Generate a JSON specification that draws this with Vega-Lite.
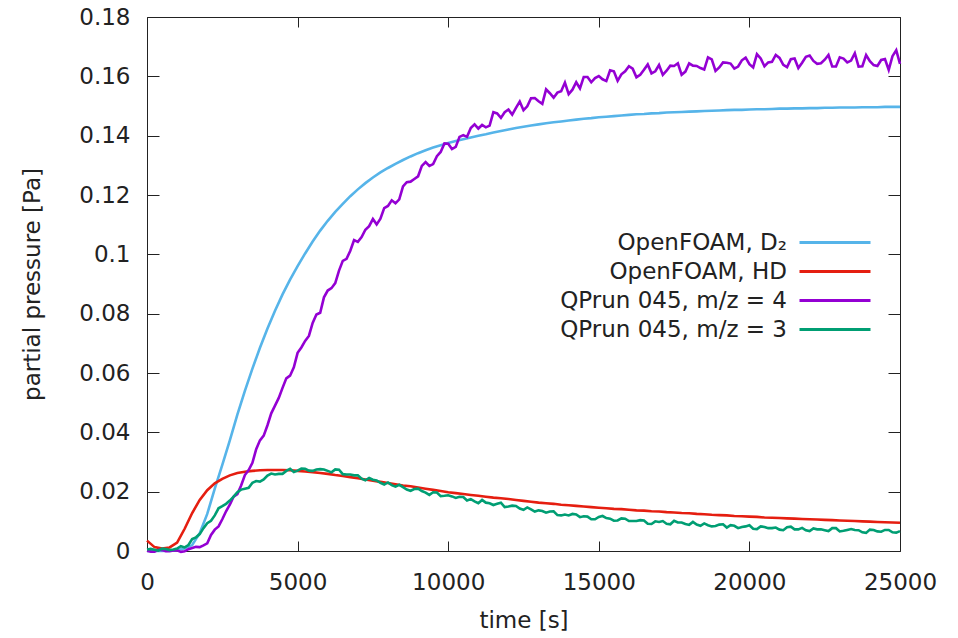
{
  "$schema": "https://vega.github.io/schema/vega-lite/v6.json",
  "width": 753,
  "height": 534,
  "autosize": {"type": "none"},
  "padding": {"left": 147, "top": 17, "right": 58, "bottom": 87},
  "background": "white",
  "config": {
    "view": {"stroke": "#222", "strokeWidth": 1},
    "font": "DejaVu Sans",
    "axis": {
      "grid": false,
      "domain": false,
      "tickColor": "#222",
      "tickWidth": 1,
      "labelFont": "DejaVu Sans",
      "labelFontSize": 23,
      "labelColor": "#222",
      "titleFont": "DejaVu Sans",
      "titleFontSize": 23,
      "titleFontWeight": "normal",
      "titleColor": "#222"
    }
  },
  "data": {
    "values": [
      {"t": 0, "a": 0, "b": 0.0035, "c": 0.0001, "d": 0.0005},
      {"t": 250, "a": 0, "b": 0.0013, "c": -0.0002, "d": 0.0004},
      {"t": 500, "a": 0, "b": 0.0008, "c": 0.0003, "d": 0.0008},
      {"t": 750, "a": 0.0001, "b": 0.0012, "c": -0.0001, "d": 0.0003},
      {"t": 1000, "a": 0.0003, "b": 0.0028, "c": 0.0002, "d": 0.0008},
      {"t": 1250, "a": 0.0008, "b": 0.0075, "c": -0.0001, "d": 0.0012},
      {"t": 1500, "a": 0.002, "b": 0.0128, "c": 0.001, "d": 0.004},
      {"t": 1750, "a": 0.006, "b": 0.0172, "c": 0.0013, "d": 0.0057},
      {"t": 2000, "a": 0.0125, "b": 0.0205, "c": 0.0026, "d": 0.0094},
      {"t": 2250, "a": 0.021, "b": 0.0228, "c": 0.0072, "d": 0.012},
      {"t": 2500, "a": 0.029, "b": 0.0243, "c": 0.0107, "d": 0.0151},
      {"t": 2750, "a": 0.0373, "b": 0.0255, "c": 0.0156, "d": 0.017},
      {"t": 3000, "a": 0.046, "b": 0.0263, "c": 0.0192, "d": 0.0198},
      {"t": 3250, "a": 0.054, "b": 0.0267, "c": 0.0256, "d": 0.021},
      {"t": 3500, "a": 0.0615, "b": 0.027, "c": 0.0297, "d": 0.023},
      {"t": 3750, "a": 0.0685, "b": 0.0272, "c": 0.0373, "d": 0.0234},
      {"t": 4000, "a": 0.075, "b": 0.0273, "c": 0.0424, "d": 0.0254},
      {"t": 4250, "a": 0.081, "b": 0.0273, "c": 0.049, "d": 0.0258},
      {"t": 4500, "a": 0.0865, "b": 0.0273, "c": 0.055, "d": 0.026},
      {"t": 4750, "a": 0.0915, "b": 0.0272, "c": 0.0591, "d": 0.0277},
      {"t": 5000, "a": 0.096, "b": 0.027, "c": 0.0668, "d": 0.0271},
      {"t": 5250, "a": 0.1003, "b": 0.0268, "c": 0.0708, "d": 0.0277},
      {"t": 5500, "a": 0.1043, "b": 0.0266, "c": 0.0769, "d": 0.027},
      {"t": 5750, "a": 0.108, "b": 0.0263, "c": 0.0803, "d": 0.0276},
      {"t": 6000, "a": 0.1113, "b": 0.026, "c": 0.0878, "d": 0.027},
      {"t": 6250, "a": 0.1143, "b": 0.0256, "c": 0.0903, "d": 0.0275},
      {"t": 6500, "a": 0.117, "b": 0.0253, "c": 0.0978, "d": 0.0259},
      {"t": 6750, "a": 0.1196, "b": 0.0249, "c": 0.1012, "d": 0.0258},
      {"t": 7000, "a": 0.1219, "b": 0.0245, "c": 0.1042, "d": 0.0255},
      {"t": 7250, "a": 0.124, "b": 0.0241, "c": 0.1083, "d": 0.0238},
      {"t": 7500, "a": 0.1259, "b": 0.0237, "c": 0.1119, "d": 0.024},
      {"t": 7750, "a": 0.1276, "b": 0.0233, "c": 0.112, "d": 0.023},
      {"t": 8000, "a": 0.1291, "b": 0.0229, "c": 0.1163, "d": 0.0231},
      {"t": 8250, "a": 0.1305, "b": 0.0225, "c": 0.1172, "d": 0.0217},
      {"t": 8500, "a": 0.1318, "b": 0.0221, "c": 0.1229, "d": 0.0215},
      {"t": 8750, "a": 0.133, "b": 0.0218, "c": 0.1245, "d": 0.0203},
      {"t": 9000, "a": 0.1341, "b": 0.0214, "c": 0.1263, "d": 0.021},
      {"t": 9250, "a": 0.1351, "b": 0.021, "c": 0.1311, "d": 0.0197},
      {"t": 9500, "a": 0.136, "b": 0.0206, "c": 0.1304, "d": 0.0198},
      {"t": 9750, "a": 0.1368, "b": 0.0202, "c": 0.1345, "d": 0.0185},
      {"t": 10000, "a": 0.1375, "b": 0.0198, "c": 0.1373, "d": 0.0188},
      {"t": 10250, "a": 0.1382, "b": 0.0195, "c": 0.1362, "d": 0.0179},
      {"t": 10500, "a": 0.1388, "b": 0.0192, "c": 0.1402, "d": 0.0182},
      {"t": 10750, "a": 0.1394, "b": 0.0189, "c": 0.1426, "d": 0.0175},
      {"t": 11000, "a": 0.14, "b": 0.0186, "c": 0.1424, "d": 0.0161},
      {"t": 11250, "a": 0.1405, "b": 0.0183, "c": 0.1428, "d": 0.0163},
      {"t": 11500, "a": 0.1411, "b": 0.018, "c": 0.1479, "d": 0.0155},
      {"t": 11750, "a": 0.1416, "b": 0.0178, "c": 0.146, "d": 0.0163},
      {"t": 12000, "a": 0.1421, "b": 0.0175, "c": 0.1488, "d": 0.015},
      {"t": 12250, "a": 0.1426, "b": 0.0172, "c": 0.1494, "d": 0.0152},
      {"t": 12500, "a": 0.143, "b": 0.0169, "c": 0.1486, "d": 0.0139},
      {"t": 12750, "a": 0.1434, "b": 0.0166, "c": 0.1526, "d": 0.014},
      {"t": 13000, "a": 0.1438, "b": 0.0163, "c": 0.1516, "d": 0.0137},
      {"t": 13250, "a": 0.1442, "b": 0.0161, "c": 0.1556, "d": 0.0129},
      {"t": 13500, "a": 0.1445, "b": 0.0159, "c": 0.1528, "d": 0.0134},
      {"t": 13750, "a": 0.1448, "b": 0.0156, "c": 0.155, "d": 0.012},
      {"t": 14000, "a": 0.1451, "b": 0.0154, "c": 0.154, "d": 0.012},
      {"t": 14250, "a": 0.1454, "b": 0.0152, "c": 0.158, "d": 0.0123},
      {"t": 14500, "a": 0.1457, "b": 0.015, "c": 0.1598, "d": 0.0117},
      {"t": 14750, "a": 0.1459, "b": 0.0148, "c": 0.158, "d": 0.0107},
      {"t": 15000, "a": 0.1462, "b": 0.0146, "c": 0.1601, "d": 0.0115},
      {"t": 15250, "a": 0.1464, "b": 0.0144, "c": 0.1584, "d": 0.0111},
      {"t": 15500, "a": 0.1466, "b": 0.0142, "c": 0.1617, "d": 0.0102},
      {"t": 15750, "a": 0.1468, "b": 0.0141, "c": 0.1607, "d": 0.011},
      {"t": 16000, "a": 0.147, "b": 0.0139, "c": 0.1634, "d": 0.0101},
      {"t": 16250, "a": 0.1472, "b": 0.0137, "c": 0.1597, "d": 0.0101},
      {"t": 16500, "a": 0.1473, "b": 0.0136, "c": 0.1622, "d": 0.0103},
      {"t": 16750, "a": 0.1475, "b": 0.0134, "c": 0.161, "d": 0.0091},
      {"t": 17000, "a": 0.1476, "b": 0.0133, "c": 0.1638, "d": 0.0098},
      {"t": 17250, "a": 0.1478, "b": 0.0131, "c": 0.1619, "d": 0.0092},
      {"t": 17500, "a": 0.1479, "b": 0.013, "c": 0.1635, "d": 0.0102},
      {"t": 17750, "a": 0.148, "b": 0.0128, "c": 0.1605, "d": 0.0096},
      {"t": 18000, "a": 0.1481, "b": 0.0127, "c": 0.1644, "d": 0.0088},
      {"t": 18250, "a": 0.1482, "b": 0.0125, "c": 0.1635, "d": 0.0089},
      {"t": 18500, "a": 0.1483, "b": 0.0124, "c": 0.1623, "d": 0.0093},
      {"t": 18750, "a": 0.1484, "b": 0.0122, "c": 0.1657, "d": 0.0083},
      {"t": 19000, "a": 0.1485, "b": 0.0121, "c": 0.163, "d": 0.0089},
      {"t": 19250, "a": 0.1486, "b": 0.012, "c": 0.1646, "d": 0.0079},
      {"t": 19500, "a": 0.1487, "b": 0.0118, "c": 0.1626, "d": 0.0085},
      {"t": 19750, "a": 0.1487, "b": 0.0117, "c": 0.1654, "d": 0.0081},
      {"t": 20000, "a": 0.1488, "b": 0.0116, "c": 0.1641, "d": 0.0087},
      {"t": 20250, "a": 0.1489, "b": 0.0115, "c": 0.1675, "d": 0.0074},
      {"t": 20500, "a": 0.1489, "b": 0.0113, "c": 0.1634, "d": 0.0081},
      {"t": 20750, "a": 0.149, "b": 0.0112, "c": 0.1649, "d": 0.0077},
      {"t": 21000, "a": 0.1491, "b": 0.0111, "c": 0.1662, "d": 0.0072},
      {"t": 21250, "a": 0.1491, "b": 0.011, "c": 0.1631, "d": 0.008},
      {"t": 21500, "a": 0.1492, "b": 0.0109, "c": 0.166, "d": 0.0073},
      {"t": 21750, "a": 0.1492, "b": 0.0108, "c": 0.1646, "d": 0.0078},
      {"t": 22000, "a": 0.1493, "b": 0.0107, "c": 0.167, "d": 0.0067},
      {"t": 22250, "a": 0.1493, "b": 0.0106, "c": 0.1642, "d": 0.0073},
      {"t": 22500, "a": 0.1494, "b": 0.0105, "c": 0.1656, "d": 0.007},
      {"t": 22750, "a": 0.1494, "b": 0.0104, "c": 0.1633, "d": 0.0077},
      {"t": 23000, "a": 0.1495, "b": 0.0103, "c": 0.1664, "d": 0.0066},
      {"t": 23250, "a": 0.1495, "b": 0.0102, "c": 0.1647, "d": 0.0071},
      {"t": 23500, "a": 0.1495, "b": 0.0101, "c": 0.1678, "d": 0.0071},
      {"t": 23750, "a": 0.1496, "b": 0.01, "c": 0.1634, "d": 0.0063},
      {"t": 24000, "a": 0.1496, "b": 0.0099, "c": 0.1651, "d": 0.0072},
      {"t": 24250, "a": 0.1496, "b": 0.0098, "c": 0.1635, "d": 0.0066},
      {"t": 24500, "a": 0.1497, "b": 0.0097, "c": 0.1658, "d": 0.0071},
      {"t": 24750, "a": 0.1497, "b": 0.0096, "c": 0.1668, "d": 0.0063},
      {"t": 25000, "a": 0.1497, "b": 0.0095, "c": 0.1642, "d": 0.0067},
      {"t": 125, "c": -0.0002, "d": 0.0007},
      {"t": 375, "c": 0.0004, "d": 0.0001},
      {"t": 625, "c": -0.0001, "d": 0.0007},
      {"t": 875, "c": 0.0002, "d": 0.0005},
      {"t": 1125, "c": -0.0003, "d": 0.0016},
      {"t": 1375, "c": 0.0006, "d": 0.002},
      {"t": 1625, "c": 0.0014, "d": 0.0046},
      {"t": 1875, "c": 0.0019, "d": 0.0077},
      {"t": 2125, "c": 0.0054, "d": 0.0102},
      {"t": 2375, "c": 0.0083, "d": 0.0144},
      {"t": 2625, "c": 0.0134, "d": 0.0159},
      {"t": 2875, "c": 0.0183, "d": 0.0183},
      {"t": 3125, "c": 0.0221, "d": 0.0207},
      {"t": 3375, "c": 0.0273, "d": 0.0213},
      {"t": 3625, "c": 0.0343, "d": 0.0236},
      {"t": 3875, "c": 0.0389, "d": 0.0241},
      {"t": 4125, "c": 0.0464, "d": 0.0261},
      {"t": 4375, "c": 0.0516, "d": 0.026},
      {"t": 4625, "c": 0.0582, "d": 0.027},
      {"t": 4875, "c": 0.0619, "d": 0.0266},
      {"t": 5125, "c": 0.0686, "d": 0.0278},
      {"t": 5375, "c": 0.0725, "d": 0.0271},
      {"t": 5625, "c": 0.0797, "d": 0.0275},
      {"t": 5875, "c": 0.0855, "d": 0.0275},
      {"t": 6125, "c": 0.0886, "d": 0.0265},
      {"t": 6375, "c": 0.0945, "d": 0.0274},
      {"t": 6625, "c": 0.0985, "d": 0.0258},
      {"t": 6875, "c": 0.1048, "d": 0.0255},
      {"t": 7125, "c": 0.1058, "d": 0.0244},
      {"t": 7375, "c": 0.1095, "d": 0.0246},
      {"t": 7625, "c": 0.1101, "d": 0.0238},
      {"t": 7875, "c": 0.1156, "d": 0.0224},
      {"t": 8125, "c": 0.1182, "d": 0.0222},
      {"t": 8375, "c": 0.1185, "d": 0.0223},
      {"t": 8625, "c": 0.1243, "d": 0.0207},
      {"t": 8875, "c": 0.1254, "d": 0.0209},
      {"t": 9125, "c": 0.1298, "d": 0.0202},
      {"t": 9375, "c": 0.1298, "d": 0.0189},
      {"t": 9625, "c": 0.1331, "d": 0.0197},
      {"t": 9875, "c": 0.1374, "d": 0.0186},
      {"t": 10125, "c": 0.1355, "d": 0.0184},
      {"t": 10375, "c": 0.1396, "d": 0.0183},
      {"t": 10625, "c": 0.1396, "d": 0.017},
      {"t": 10875, "c": 0.1438, "d": 0.0167},
      {"t": 11125, "c": 0.1436, "d": 0.0172},
      {"t": 11375, "c": 0.1434, "d": 0.0161},
      {"t": 11625, "c": 0.1475, "d": 0.0159},
      {"t": 11875, "c": 0.1479, "d": 0.0148},
      {"t": 12125, "c": 0.1471, "d": 0.0153},
      {"t": 12375, "c": 0.1515, "d": 0.0143},
      {"t": 12625, "c": 0.1499, "d": 0.0147},
      {"t": 12875, "c": 0.1527, "d": 0.0133},
      {"t": 13125, "c": 0.1507, "d": 0.0135},
      {"t": 13375, "c": 0.1543, "d": 0.0133},
      {"t": 13625, "c": 0.1545, "d": 0.0121},
      {"t": 13875, "c": 0.1579, "d": 0.0123},
      {"t": 14125, "c": 0.1555, "d": 0.0125},
      {"t": 14375, "c": 0.1559, "d": 0.0114},
      {"t": 14625, "c": 0.1598, "d": 0.0116},
      {"t": 14875, "c": 0.1594, "d": 0.0107},
      {"t": 15125, "c": 0.159, "d": 0.0118},
      {"t": 15375, "c": 0.162, "d": 0.0109},
      {"t": 15625, "c": 0.1585, "d": 0.0103},
      {"t": 15875, "c": 0.1617, "d": 0.0109},
      {"t": 16125, "c": 0.1626, "d": 0.0101},
      {"t": 16375, "c": 0.1605, "d": 0.0104},
      {"t": 16625, "c": 0.164, "d": 0.0092},
      {"t": 16875, "c": 0.1617, "d": 0.01},
      {"t": 17125, "c": 0.1605, "d": 0.0101},
      {"t": 17375, "c": 0.1636, "d": 0.009},
      {"t": 17625, "c": 0.1644, "d": 0.0096},
      {"t": 17875, "c": 0.1616, "d": 0.0091},
      {"t": 18125, "c": 0.1636, "d": 0.0098},
      {"t": 18375, "c": 0.1628, "d": 0.0085},
      {"t": 18625, "c": 0.1664, "d": 0.0087},
      {"t": 18875, "c": 0.1618, "d": 0.0084},
      {"t": 19125, "c": 0.1647, "d": 0.009},
      {"t": 19375, "c": 0.1643, "d": 0.0087},
      {"t": 19625, "c": 0.1633, "d": 0.0077},
      {"t": 19875, "c": 0.1663, "d": 0.0083},
      {"t": 20125, "c": 0.163, "d": 0.0075},
      {"t": 20375, "c": 0.166, "d": 0.0083},
      {"t": 20625, "c": 0.1647, "d": 0.0077},
      {"t": 20875, "c": 0.1672, "d": 0.0079},
      {"t": 21125, "c": 0.1639, "d": 0.007},
      {"t": 21375, "c": 0.1658, "d": 0.0082},
      {"t": 21625, "c": 0.1628, "d": 0.0073},
      {"t": 21875, "c": 0.1666, "d": 0.007},
      {"t": 22125, "c": 0.1652, "d": 0.0076},
      {"t": 22375, "c": 0.1644, "d": 0.0073},
      {"t": 22625, "c": 0.1672, "d": 0.0067},
      {"t": 22875, "c": 0.1633, "d": 0.0077},
      {"t": 23125, "c": 0.166, "d": 0.0068},
      {"t": 23375, "c": 0.1653, "d": 0.0074},
      {"t": 23625, "c": 0.1633, "d": 0.007},
      {"t": 23875, "c": 0.1672, "d": 0.0061},
      {"t": 24125, "c": 0.1638, "d": 0.0071},
      {"t": 24375, "c": 0.1655, "d": 0.0065},
      {"t": 24625, "c": 0.1622, "d": 0.0071},
      {"t": 24875, "c": 0.1688, "d": 0.0062}
    ]
  },
  "transform": [
    {"fold": ["a", "b", "c", "d"], "as": ["s", "p"]},
    {"filter": "isValid(datum.p)"}
  ],
  "layer": [
    {
      "mark": {"type": "line", "strokeWidth": 2.6, "interpolate": "linear"},
      "encoding": {
        "x": {
          "field": "t", "type": "quantitative",
          "scale": {"domain": [0, 25000], "nice": false, "zero": false},
          "axis": {
            "orient": "bottom", "title": "time [s]",
            "values": [0, 5000, 10000, 15000, 20000, 25000],
            "format": "d", "tickSize": -10, "labelPadding": 30,
            "titlePadding": 15, "labelFlush": false, "labelOverlap": false
          }
        },
        "y": {
          "field": "p", "type": "quantitative",
          "scale": {"domain": [0, 0.18], "nice": false, "zero": false},
          "axis": {
            "orient": "left", "title": "partial pressure [Pa]",
            "values": [0, 0.02, 0.04, 0.06, 0.08, 0.1, 0.12, 0.14, 0.16, 0.18],
            "format": "~g", "tickSize": -12, "labelPadding": 29,
            "titlePadding": 34, "labelFlush": false, "labelOverlap": false
          }
        },
        "color": {
          "field": "s", "type": "nominal",
          "scale": {"domain": ["a", "b", "c", "d"], "range": ["#56b4e9", "#e51e10", "#9400d3", "#009e73"]},
          "legend": {
            "orient": "none", "legendX": 640, "legendY": 214,
            "direction": "vertical", "title": null, "padding": 0,
            "symbolType": "stroke", "symbolSize": 100, "symbolStrokeWidth": 3,
            "labelFont": "DejaVu Sans", "labelFontSize": 23, "labelColor": "#222",
            "rowPadding": 5, "labelLimit": 400,
            "labelExpr": "datum.label == 'a' ? 'OpenFOAM, D₂' : datum.label == 'b' ? 'OpenFOAM, HD' : datum.label == 'c' ? 'QPrun 045, m/z = 4' : 'QPrun 045, m/z = 3'",
            "encode": {
              "labels": {"update": {"x": {"value": 0}, "align": {"value": "right"}}},
              "symbols": {"update": {"x": {"value": 48}, "shape": {"value": "M-7.1,0H7.1"}}}
            }
          }
        }
      }
    },
    {
      "mark": {"type": "point", "opacity": 0},
      "encoding": {
        "x": {
          "field": "t", "type": "quantitative",
          "axis": {"orient": "top", "labels": false, "title": null, "tickSize": -10, "values": [0, 5000, 10000, 15000, 20000, 25000]}
        },
        "y": {
          "field": "p", "type": "quantitative",
          "axis": {"orient": "right", "labels": false, "title": null, "tickSize": -12, "values": [0, 0.02, 0.04, 0.06, 0.08, 0.1, 0.12, 0.14, 0.16, 0.18]}
        }
      }
    }
  ],
  "resolve": {"axis": {"x": "independent", "y": "independent"}}
}
